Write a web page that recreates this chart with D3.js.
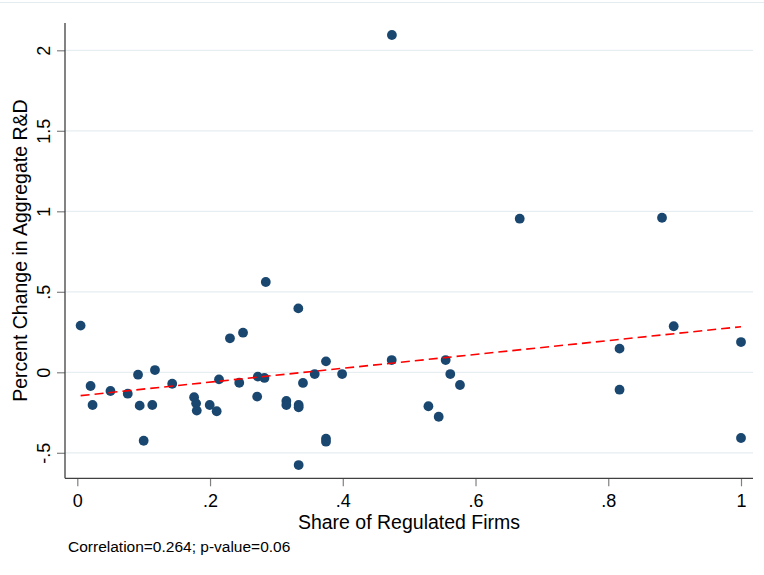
<!DOCTYPE html>
<html>
<head>
<meta charset="utf-8">
<script src="https://cdn.jsdelivr.net/npm/d3@7"></script>
<style>
  html, body { margin: 0; padding: 0; background: #fff; }
  svg { display: block; }
  text { font-family: Arial, "Liberation Sans", Helvetica, sans-serif; fill: #000; }
</style>
</head>
<body>
<svg id="chart" width="764" height="575"></svg>
<script>
// ---- Data ----
const shareRegulated = [
  0.005, 0.020, 0.023, 0.050, 0.076, 0.0915, 0.094, 0.100, 0.113, 0.117,
  0.143, 0.176, 0.179, 0.180, 0.1995, 0.210, 0.2135, 0.230, 0.2497, 0.244,
  0.272, 0.271, 0.282, 0.284, 0.315, 0.315, 0.333, 0.3335, 0.3335, 0.3335,
  0.340, 0.3577, 0.3747, 0.3747, 0.3747, 0.399, 0.4737, 0.474, 0.529, 0.5445,
  0.555, 0.562, 0.5766, 0.6666, 0.817, 0.817, 0.881, 0.8986, 1.0, 1.0
];
const pctChangeRD = [
  0.290, -0.085, -0.203, -0.116, -0.133, -0.015, -0.207, -0.425, -0.203, 0.014,
  -0.071, -0.155, -0.193, -0.238, -0.203, -0.242, -0.044, 0.211, 0.246, -0.065,
  -0.027, -0.151, -0.035, 0.561, -0.178, -0.203, 0.397, -0.203, -0.217, -0.576,
  -0.066, -0.011, 0.068, -0.412, -0.431, -0.011, 0.076, 2.095, -0.211, -0.276,
  0.076, -0.011, -0.079, 0.954, 0.147, -0.108, 0.960, 0.286, 0.188, -0.408
];
// Linear fit line end points
const fitX = [0.005, 1.0];
const fitY = [-0.145, 0.283];

const xTickValues = [0, 0.2, 0.4, 0.6, 0.8, 1];
const xTickLabels = ["0", ".2", ".4", ".6", ".8", "1"];
const yTickValues = [-0.5, 0, 0.5, 1, 1.5, 2];
const yTickLabels = ["-.5", "0", ".5", "1", "1.5", "2"];

const xTitle = "Share of Regulated Firms";
const yTitle = "Percent Change in Aggregate R&D";
const note = "Correlation=0.264; p-value=0.06";

// ---- Layout ----
const svg = d3.select("#chart");
const plotLeft = 65, plotRight = 753, plotTop = 23, plotBottom = 478.3;

const x = d3.scaleLinear().domain([0, 1]).range([77.3, 741]);
const y = d3.scaleLinear().domain([0, 2]).range([372.3, 50.3]);

// outer frame top line
svg.append("line")
  .attr("x1", 0).attr("x2", 764).attr("y1", 2.5).attr("y2", 2.5)
  .attr("stroke", "#e4ecef").attr("stroke-width", 1.2);

// gridlines
svg.append("g").selectAll("line").data(yTickValues).join("line")
  .attr("x1", plotLeft).attr("x2", plotRight)
  .attr("y1", d => y(d)).attr("y2", d => y(d))
  .attr("stroke", "#e6eef1").attr("stroke-width", 1.2);

// Y axis
const yAxis = d3.axisLeft(y).tickValues(yTickValues).tickSize(8)
  .tickFormat((d, i) => yTickLabels[i]);
const gy = svg.append("g").attr("transform", `translate(${plotLeft},0)`).call(yAxis);
gy.select(".domain").remove();
gy.selectAll(".tick line").attr("stroke", "#808080").attr("stroke-width", 1.2);
gy.selectAll(".tick text")
  .attr("x", null).attr("dy", null)
  .attr("transform", "translate(-15.5,0) rotate(-90)")
  .attr("text-anchor", "middle")
  .style("font-size", "18px").style("font-family", "Arial, 'Liberation Sans', sans-serif")
  .attr("fill", "#000");
svg.append("line")
  .attr("x1", plotLeft).attr("x2", plotLeft).attr("y1", plotTop).attr("y2", plotBottom)
  .attr("stroke", "#404040").attr("stroke-width", 1.3);

// X axis
const xAxis = d3.axisBottom(x).tickValues(xTickValues).tickSize(8)
  .tickFormat((d, i) => xTickLabels[i]);
const gx = svg.append("g").attr("transform", `translate(0,${plotBottom})`).call(xAxis);
gx.select(".domain").remove();
gx.selectAll(".tick line").attr("stroke", "#808080").attr("stroke-width", 1.2);
gx.selectAll(".tick text")
  .attr("y", 29).attr("dy", null)
  .style("font-size", "18px").style("font-family", "Arial, 'Liberation Sans', sans-serif")
  .attr("fill", "#000");
svg.append("line")
  .attr("x1", plotLeft).attr("x2", plotRight).attr("y1", plotBottom).attr("y2", plotBottom)
  .attr("stroke", "#404040").attr("stroke-width", 1.3);

// points
const pts = shareRegulated.map((v, i) => ({ x: v, y: pctChangeRD[i] }));
svg.append("g").selectAll("circle").data(pts).join("circle")
  .attr("cx", d => x(d.x)).attr("cy", d => y(d.y)).attr("r", 4.9)
  .attr("fill", "#1a476f");

// fit line
const fitData = fitX.map((v, i) => ({ x: v, y: fitY[i] }));
svg.append("path").datum(fitData)
  .attr("d", d3.line().x(d => x(d.x)).y(d => y(d.y)))
  .attr("fill", "none").attr("stroke", "#ff0000").attr("stroke-width", 1.6)
  .attr("stroke-dasharray", "9,5");

// axis titles
svg.append("text").attr("x", (plotLeft + plotRight) / 2).attr("y", 528.5)
  .attr("text-anchor", "middle").style("font-size", "19.5px").text(xTitle);
svg.append("text")
  .attr("transform", `translate(27,${(plotTop + plotBottom) / 2}) rotate(-90)`)
  .attr("text-anchor", "middle").style("font-size", "19.5px").text(yTitle);

// note
svg.append("text").attr("x", 68).attr("y", 552)
  .style("font-size", "15.5px").text(note);
</script>
</body>
</html>
